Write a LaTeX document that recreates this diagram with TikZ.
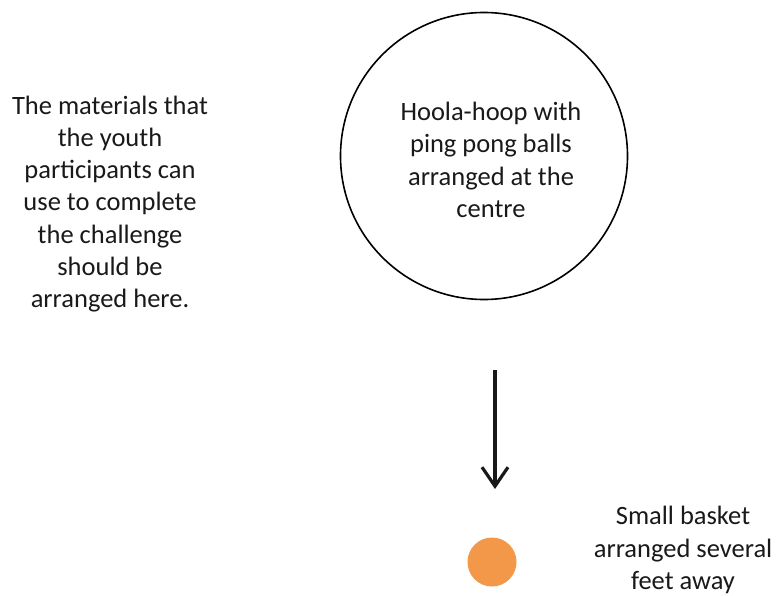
\documentclass[tikz,border=0pt]{standalone}
\usepackage{fontspec}
\setmainfont{Carlito}
\usepackage{tikz}
\usetikzlibrary{arrows.meta, calc}
\definecolor{ballorange}{RGB}{242,152,72}
\definecolor{inkgray}{RGB}{25,25,25}
\tikzset{
	note/.style = {align=center, text=inkgray, font=\fontsize{26.5}{32.3}\selectfont, inner sep=0pt},
}

\begin{document}
\begin{tikzpicture}[x=1pt, y=-1pt]
	\useasboundingbox (0,0) rectangle (776,595);
	\node[draw, circle, minimum size=287pt, line width=1.6pt] (hoop) at (484,156) {};
	\node[note] (hooptext) at (491,160) {Hoola-hoop with\\ping pong balls\\arranged at the\\centre};
	\node[note] (materials) at (110,204) {The materials that\\the youth\\participants can\\use to complete\\the challenge\\should be\\arranged here.};
	\node[circle, fill=ballorange, minimum size=49pt, inner sep=0pt] (basket) at (492,562) {};
	\node[note] (baskettext) at (683,550) {Small basket\\arranged several\\feet away};
	\coordinate (arrowtop) at (495,370);
	\coordinate (arrowtip) at (495,489);
	\draw[line width=3.2pt, inkgray, -{Straight Barb[length=19pt, width=26pt]}] (arrowtop) -- (arrowtip);
\end{tikzpicture}
\end{document}
